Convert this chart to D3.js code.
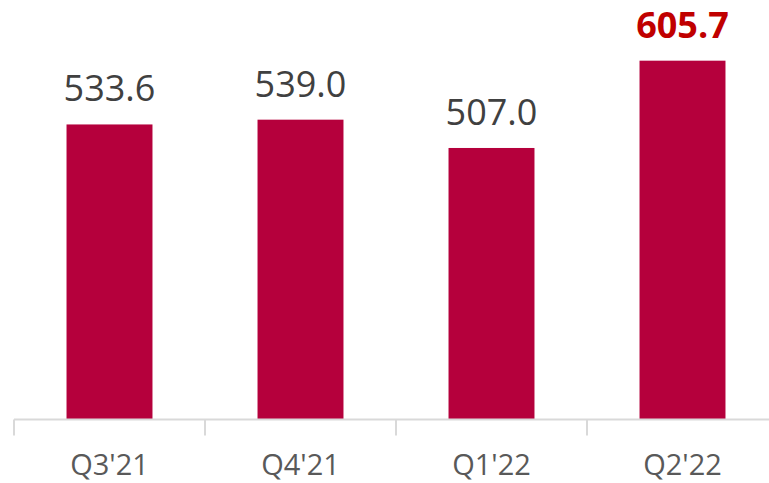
<!DOCTYPE html>
<html>
<head>
  <meta charset="utf-8" />
  <title>Quarterly bars</title>
  <script src="https://cdnjs.cloudflare.com/ajax/libs/d3/7.8.5/d3.min.js"></script>
  <style>
    body { margin: 0; background: #fff; }
    svg { display: block; font-family: 'Open Sans', sans-serif; }
  </style>
</head>
<body>
  <svg id="chart" width="769" height="483"></svg>
  <script>
    let quarters = ["Q3'21", "Q4'21", "Q1'22", "Q2'22"]
    let values = [533.6, 539.0, 507.0, 605.7]
    let highlight = [false, false, false, true]

    let svg = d3.select('#chart')

    let xScale = d3.scaleBand().domain(quarters).range([14, 778]).paddingInner(0.55).paddingOuter(0.275)
    let yScale = d3.scaleLinear().domain([200, 650]).range([419.5, 21.5])

    let base = d3.scaleBand().domain(quarters).range([14, 778])

    svg.selectAll('rect.bar')
      .data(values)
      .enter()
      .append('rect')
      .attr('class', 'bar')
      .attr('x', function(d, i) { return xScale(quarters[i]) })
      .attr('width', xScale.bandwidth())
      .attr('y', function(d) { return yScale(d) })
      .attr('height', function(d) { return yScale(200) - yScale(d) })
      .style('fill', '#b5003c')

    // axis line and ticks at category boundaries
    let axis = svg.append('g').attr('id', 'xAxis')
    axis.append('line')
      .attr('x1', 14).attr('x2', 778)
      .attr('y1', yScale(200)).attr('y2', yScale(200))
      .style('stroke', '#d9d9d9').style('stroke-width', 2)
    axis.selectAll('line.tick')
      .data(quarters)
      .enter()
      .append('line')
      .attr('class', 'tick')
      .attr('x1', function(d) { return base(d) }).attr('x2', function(d) { return base(d) })
      .attr('y1', yScale(200)).attr('y2', yScale(200) + 16)
      .style('stroke', '#d9d9d9').style('stroke-width', 2)

    axis.selectAll('text')
      .data(quarters)
      .enter()
      .append('text')
      .attr('x', function(d) { return xScale(d) + xScale.bandwidth() / 2 })
      .attr('y', 475)
      .attr('text-anchor', 'middle')
      .style('font-size', '29px')
      .style('fill', '#595959')
      .text(function(d) { return d })

    svg.selectAll('text.val')
      .data(values)
      .enter()
      .append('text')
      .attr('class', 'val')
      .attr('x', function(d, i) { return xScale(quarters[i]) + xScale.bandwidth() / 2 })
      .attr('y', function(d) { return yScale(d) - 23 })
      .attr('text-anchor', 'middle')
      .style('font-size', '36px')
      .style('font-weight', function(d, i) { return highlight[i] ? 'bold' : 'normal' })
      .style('fill', function(d, i) { return highlight[i] ? '#c00000' : '#404040' })
      .text(function(d) { return d.toFixed(1) })
  </script>
</body>
</html>
